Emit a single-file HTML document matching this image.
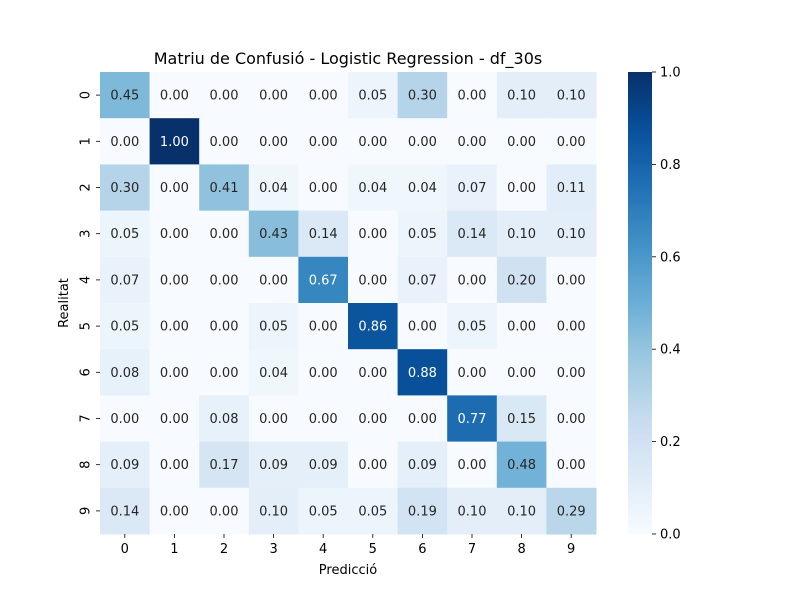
<!DOCTYPE html>
<html><head><meta charset="utf-8"><style>
body{margin:0;background:#fff;font-family:"Liberation Sans","DejaVu Sans",sans-serif;}
svg text{font-family:"DejaVu Sans","Liberation Sans",sans-serif;}
</style></head><body>
<svg id="chart" width="800" height="600" xmlns="http://www.w3.org/2000/svg"></svg>
<script>
const rowLabels=["0","1","2","3","4","5","6","7","8","9"];
const colLabels=["0","1","2","3","4","5","6","7","8","9"];
const matrix=[
[0.45,0.00,0.00,0.00,0.00,0.05,0.30,0.00,0.10,0.10],
[0.00,1.00,0.00,0.00,0.00,0.00,0.00,0.00,0.00,0.00],
[0.30,0.00,0.41,0.04,0.00,0.04,0.04,0.07,0.00,0.11],
[0.05,0.00,0.00,0.43,0.14,0.00,0.05,0.14,0.10,0.10],
[0.07,0.00,0.00,0.00,0.67,0.00,0.07,0.00,0.20,0.00],
[0.05,0.00,0.00,0.05,0.00,0.86,0.00,0.05,0.00,0.00],
[0.08,0.00,0.00,0.04,0.00,0.00,0.88,0.00,0.00,0.00],
[0.00,0.00,0.08,0.00,0.00,0.00,0.00,0.77,0.15,0.00],
[0.09,0.00,0.17,0.09,0.09,0.00,0.09,0.00,0.48,0.00],
[0.14,0.00,0.00,0.10,0.05,0.05,0.19,0.10,0.10,0.29]];
const cbTicks=[0,0.2,0.4,0.6,0.8,1.0];
const cbTickLabels=["0.0","0.2","0.4","0.6","0.8","1.0"];

const NS="http://www.w3.org/2000/svg";
const svg=document.getElementById('chart');
const X0=100,X1=596,Y0=72,Y1=534;
const cw=(X1-X0)/colLabels.length, ch=(Y1-Y0)/rowLabels.length;
const xPos=i=>X0+i*cw, yPos=j=>Y0+j*ch;
const stops=[[247,251,255],[222,235,247],[198,219,239],[158,202,225],[107,174,214],[66,146,198],[33,113,181],[8,81,156],[8,48,107]];
function color(v){v=Math.max(0,Math.min(1,v));const t=v*8,i=Math.min(7,Math.floor(t)),f=t-i;
const a=stops[i],b=stops[i+1];return `rgb(${a.map((c,k)=>Math.round(c+(b[k]-c)*f)).join(',')})`;}
function el(tag,attrs,txt){const e=document.createElementNS(NS,tag);for(const k in attrs)e.setAttribute(k,attrs[k]);if(txt!==undefined)e.textContent=txt;svg.appendChild(e);return e;}

const title=el('text',{x:348,y:64,'text-anchor':'middle','font-size':16,fill:'#000'},'Matriu de Confusió - Logistic Regression - df_30s');



matrix.forEach((row,r)=>row.forEach((v,c)=>{
  const rc=el('rect',{x:xPos(c),y:yPos(r),width:cw+0.5,height:ch+0.5,fill:color(v)});
  
  
  const t=el('text',{x:xPos(c)+cw/2,y:yPos(r)+ch/2+4.5,'text-anchor':'middle','font-size':13,fill:v>=0.6?'#fff':'#262626'},v.toFixed(2));
  
  
}));

colLabels.forEach((l,i)=>{
  const x=xPos(i)+cw/2;
  el('line',{x1:x,x2:x,y1:Y1,y2:Y1+4,stroke:'#000','stroke-width':0.8});
  const t=el('text',{x:x,y:Y1+19,'text-anchor':'middle','font-size':13,fill:'#000'},l);
  
  
});
rowLabels.forEach((l,i)=>{
  const y=yPos(i)+ch/2;
  el('line',{x1:X0-4,x2:X0,y1:y,y2:y,stroke:'#000','stroke-width':0.8});
  const t=el('text',{x:X0-14,y:y,'text-anchor':'middle','font-size':13,fill:'#000',transform:`rotate(-90 ${X0-14} ${y})`,'dominant-baseline':'middle'},l);
  
  
});
const xt=el('text',{x:348,y:574,'text-anchor':'middle','font-size':13,fill:'#000'},'Predicció');


const yt=el('text',{x:68,y:303,'text-anchor':'middle','font-size':13,fill:'#000',transform:'rotate(-90 68 303)'},'Realitat');



// colorbar
const CX=628,CW=24;
const defs=el('defs',{});
const g=document.createElementNS(NS,'linearGradient');
g.setAttribute('id','cbg');g.setAttribute('x1','0');g.setAttribute('y1','1');g.setAttribute('x2','0');g.setAttribute('y2','0');
for(let i=0;i<=20;i++){const s=document.createElementNS(NS,'stop');s.setAttribute('offset',i/20);s.setAttribute('stop-color',color(i/20));g.appendChild(s);}
defs.appendChild(g);
const cb=el('rect',{x:CX,y:Y0,width:CW,height:Y1-Y0,fill:'url(#cbg)'});


const cbY=v=>Y1-v*(Y1-Y0);
cbTicks.forEach((v,i)=>{
  const y=cbY(v);
  el('line',{x1:CX+CW,x2:CX+CW+4,y1:y,y2:y,stroke:'#000','stroke-width':0.8});
  const t=el('text',{x:CX+CW+8,y:y+4.5,'font-size':13,fill:'#000'},cbTickLabels[i]);
  
  
});
</script>
</body></html>
